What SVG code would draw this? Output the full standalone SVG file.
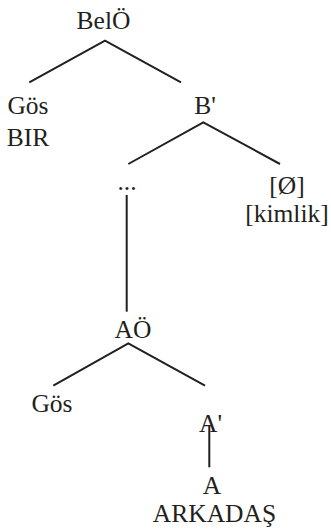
<svg xmlns="http://www.w3.org/2000/svg" width="331" height="529" viewBox="0 0 331 529">
<style>
text{font-family:"Liberation Serif","Times New Roman",serif;font-size:25.5px;fill:#231f20;text-anchor:middle}
.e{stroke:#231f20;stroke-width:2;fill:none}
</style>
<rect width="331" height="529" fill="#fff"/>
<g id="connectors">
<polyline class="e" points="29.3,82.3 105,40.7 181,82.3"/>
<polyline class="e" points="128.3,164 203.3,122.3 280,164"/>
<line class="e" x1="126.7" y1="195" x2="126.7" y2="311.7" stroke-width="1.6"/>
<polyline class="e" points="53.3,385.7 128.3,343.3 205,385.7"/>
<line class="e" x1="209.3" y1="425" x2="209.3" y2="467.3" stroke-width="1.6"/>
</g>
<g id="BelO"><text x="103.5" y="29">BelÖ</text></g>
<g id="Gos1"><text x="28" y="114">Gös</text><text x="28" y="145.7">BIR</text></g>
<g id="Bp"><text x="205" y="114">B'</text></g>
<g id="dots"><text x="127" y="190">...</text></g>
<g id="null"><text x="287" y="194">[Ø]</text><text x="287" y="221.7">[kimlik]</text></g>
<g id="AO"><text x="133" y="338">AÖ</text></g>
<g id="Gos2"><text x="52" y="411.7">Gös</text></g>
<g id="Ap"><text x="210.5" y="431.7">A'</text></g>
<g id="A"><text x="212" y="494">A</text><text x="214.5" y="521.7">ARKADAŞ</text></g>
</svg>
